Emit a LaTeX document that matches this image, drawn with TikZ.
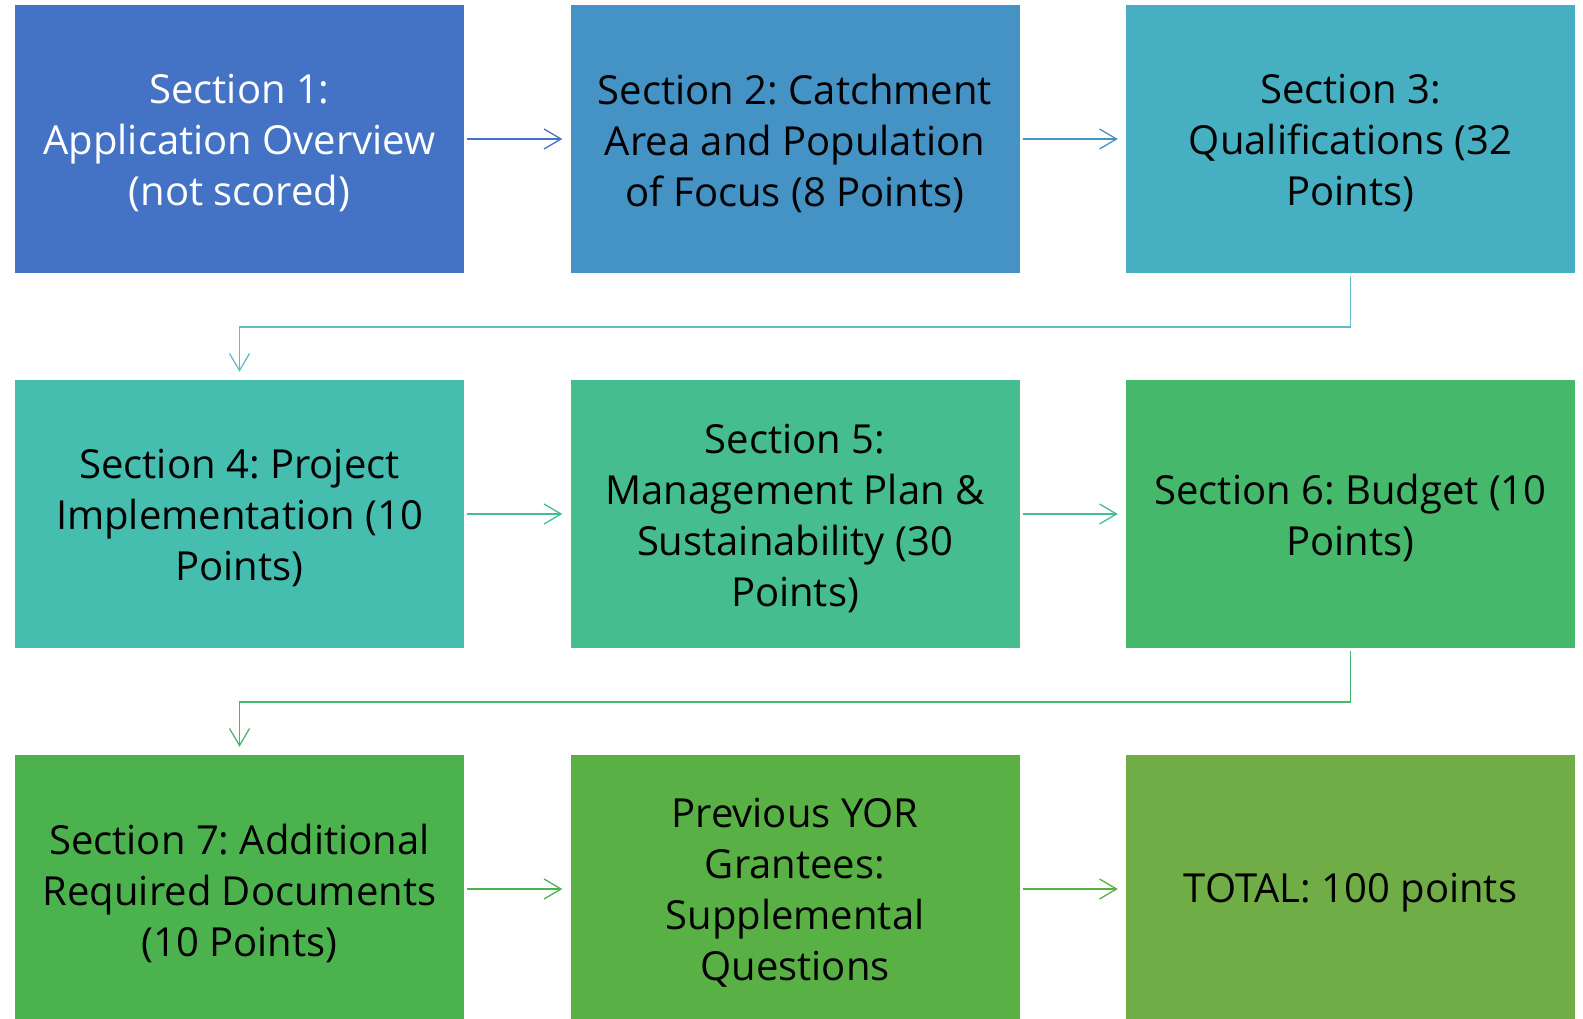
\documentclass[tikz,border=0pt]{standalone}
\usepackage{fontspec}
\setmainfont{Open Sans}
\usetikzlibrary{arrows.meta}
\definecolor{cA}{HTML}{4472C4}
\definecolor{cB}{HTML}{4592C4}
\definecolor{cC}{HTML}{46AFC2}
\definecolor{cD}{HTML}{45BEB0}
\definecolor{cE}{HTML}{45BD8E}
\definecolor{cF}{HTML}{45B86C}
\definecolor{cG}{HTML}{4CB24D}
\definecolor{cH}{HTML}{59B045}
\definecolor{cI}{HTML}{70AD47}
\tikzset{
  secbox/.style={fill=#1, draw=none, minimum width=449pt, minimum height=268pt, inner sep=0pt},
  sectext/.style={align=center, inner sep=0pt, yshift=-4pt,
    font=\fontsize{40}{51}\selectfont\frenchspacing, text=black},
  conn/.style={draw=#1, line width=1.3pt, -{Straight Barb[length=17pt,width=20pt,line width=1.3pt]}},
}
\begin{document}
\begin{tikzpicture}[x=1pt,y=-1pt]
\useasboundingbox (0,0) rectangle (1583,1019);
\node[secbox=cA, label={[sectext, text=white]center:{Section 1:\\Application Overview\\(not scored)}}] (s1) at (239.5,139) {};
\node[secbox=cB, label={[sectext]center:{Section 2: Catchment\\Area and Population\\of Focus (8 Points)}}] (s2) at (795,139) {};
\node[secbox=cC, label={[sectext]center:{Section 3:\\Qualifications (32\\Points)}}] (s3) at (1350.5,139) {};
\node[secbox=cD, label={[sectext]center:{Section 4: Project\\Implementation (10\\Points)}}] (s4) at (239.5,514) {};
\node[secbox=cE, label={[sectext]center:{Section 5:\\Management Plan \&\\Sustainability (30\\Points)}}] (s5) at (795,514) {};
\node[secbox=cF, label={[sectext]center:{Section 6: Budget (10\\Points)}}] (s6) at (1350.5,514) {};
\node[secbox=cG, label={[sectext]center:{Section 7: Additional\\Required Documents\\(10 Points)}}] (s7) at (239.5,889) {};
\node[secbox=cH, label={[sectext]center:{Previous YOR\\Grantees:\\Supplemental\\Questions}}] (s8) at (795,889) {};
\node[secbox=cI, label={[sectext]center:{TOTAL: 100 points}}] (s9) at (1350.5,889) {};

\draw[conn=cA] ([xshift=3pt]s1.east) -- ([xshift=-8pt]s2.west);
\draw[conn=cB] ([xshift=3pt]s2.east) -- ([xshift=-8pt]s3.west);
\draw[conn=cE] ([xshift=3pt]s4.east) -- ([xshift=-8pt]s5.west);
\draw[conn=cE] ([xshift=3pt]s5.east) -- ([xshift=-8pt]s6.west);
\draw[conn=cG] ([xshift=3pt]s7.east) -- ([xshift=-8pt]s8.west);
\draw[conn=cH] ([xshift=3pt]s8.east) -- ([xshift=-8pt]s9.west);
\coordinate (e1) at (1350.5,327);
\coordinate (e2) at (239.5,327);
\coordinate (e3) at (1350.5,702);
\coordinate (e4) at (239.5,702);
\draw[conn=cC!85!white] ([yshift=-3pt]s3.south) -- (e1) -- (e2) -- ([yshift=8pt]s4.north);
\draw[conn=cF] ([yshift=-3pt]s6.south) -- (e3) -- (e4) -- ([yshift=8pt]s7.north);
\end{tikzpicture}
\end{document}
